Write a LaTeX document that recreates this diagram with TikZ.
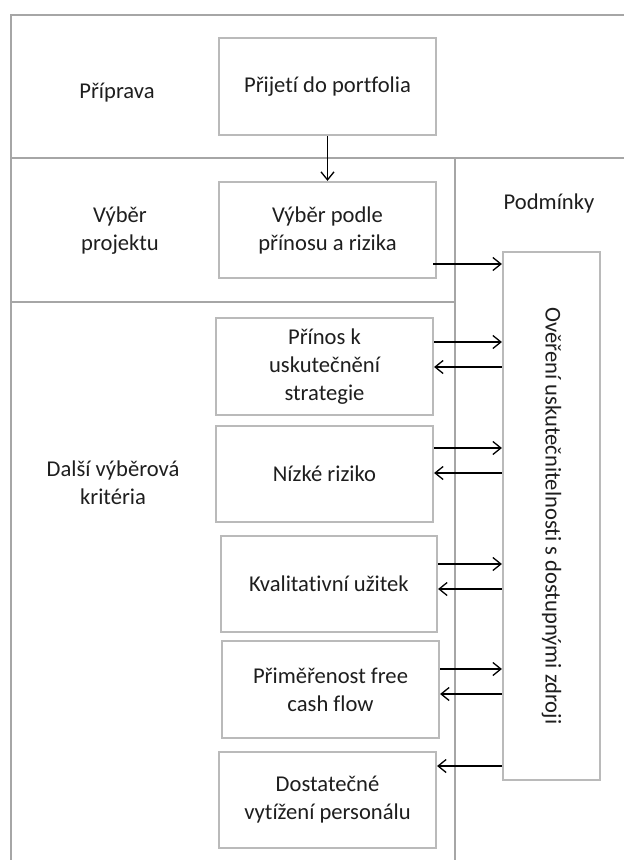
\documentclass[tikz,border=0pt]{standalone}
\usepackage{fontspec}
\setmainfont{Carlito}[Ligatures=NoCommon]
\usetikzlibrary{arrows.meta}
\definecolor{framegray}{RGB}{166,166,166}
\definecolor{boxgray}{RGB}{186,186,186}
\definecolor{inktext}{RGB}{30,30,30}
\tikzset{
  stagebox/.style={draw=boxgray, line width=2.2bp, fill=white, inner sep=0pt,
    minimum width=217bp, minimum height=97bp, align=center, text=inktext,
    font=\fontsize{22.6bp}{28bp}\selectfont},
  lbl/.style={inner sep=0pt, align=center, text=inktext,
    font=\fontsize{22.6bp}{28bp}\selectfont},
  divider/.style={draw=framegray, line width=2.6bp},
  arr/.style={draw=black, line width=1.3bp, -{Straight Barb[length=8bp,width=13bp,line width=1.3bp]}}
}
\begin{document}
\begin{tikzpicture}[x=1bp,y=-1bp]
\useasboundingbox (0,0) rectangle (624,860);

% section frame
\coordinate (tl) at (11,15);
\coordinate (tr) at (624,15);
\coordinate (bl) at (11,860);
\coordinate (s1l) at (11,158);
\coordinate (s1r) at (624,158);
\coordinate (s2l) at (11,302);
\coordinate (vtop) at (455,158);
\coordinate (vbot) at (455,860);
\draw[divider] (tr) -- (tl) -- (bl);
\draw[divider] (s1l) -- (s1r);
\draw[divider] (s2l) -- (s2l -| vtop);
\draw[divider] (vtop) -- (vbot);

% section labels
\node[lbl] (prep) at (117,93) {Příprava};
\node[lbl] (vyb) at (120,231) {Výběr\\ projektu};
\node[lbl] (dalsi) at (113,483) {Další výběrová\\kritéria};
\node[lbl] (podm) at (549,203) {Podmínky};

% stage boxes
\node[stagebox] (b1) at (327.5,86.5) {Přijetí do portfolia};
\node[stagebox, minimum height=96bp] (b2) at (327.5,230) {Výběr podle\\přínosu a rizika};
\node[stagebox] (b3) at (324.5,366.5) {Přínos k\\uskutečnění\\strategie};
\node[stagebox, minimum height=96bp] (b4) at (324.5,474) {Nízké riziko};
\node[stagebox, minimum width=216bp, minimum height=96bp] (b5) at (329,584) {Kvalitativní užitek};
\node[stagebox] (b6) at (330.5,689.5) {Přiměřenost free\\cash flow};
\node[stagebox, minimum height=96bp] (b7) at (327.5,800) {Dostatečné\\vytížení personálu};

% resource check
\node[stagebox, minimum width=97bp, minimum height=528bp] (tall) at (551.5,516) {};
\node[lbl, rotate=-90] (talltxt) at (tall.center) {Ověření uskutečnitelnosti s dostupnými zdroji};

% connectors
\draw[arr] (b1.south) -- (b2.north);
\draw[arr] ([xshift=-4bp,yshift=-34bp]b2.east) -- ([yshift=-34bp]b2.east -| tall.west);

\draw[arr] ([yshift=24.5bp]b3.east) -- ([yshift=24.5bp]b3.east -| tall.west);
\draw[arr] ([yshift=-0.5bp]b3.east -| tall.west) -- ([yshift=-0.5bp]b3.east);

\draw[arr] ([yshift=26bp]b4.east) -- ([yshift=26bp]b4.east -| tall.west);
\draw[arr] ([yshift=1bp]b4.east -| tall.west) -- ([yshift=1bp]b4.east);

\draw[arr] ([yshift=20bp]b5.east) -- ([yshift=20bp]b5.east -| tall.west);
\draw[arr] ([yshift=-5bp]b5.east -| tall.west) -- ([yshift=-5bp]b5.east);

\draw[arr] ([yshift=20.5bp]b6.east) -- ([yshift=20.5bp]b6.east -| tall.west);
\draw[arr] ([yshift=-4.5bp]b6.east -| tall.west) -- ([yshift=-4.5bp]b6.east);

\draw[arr] ([yshift=34bp]b7.east -| tall.west) -- ([yshift=34bp]b7.east);
\end{tikzpicture}
\end{document}
